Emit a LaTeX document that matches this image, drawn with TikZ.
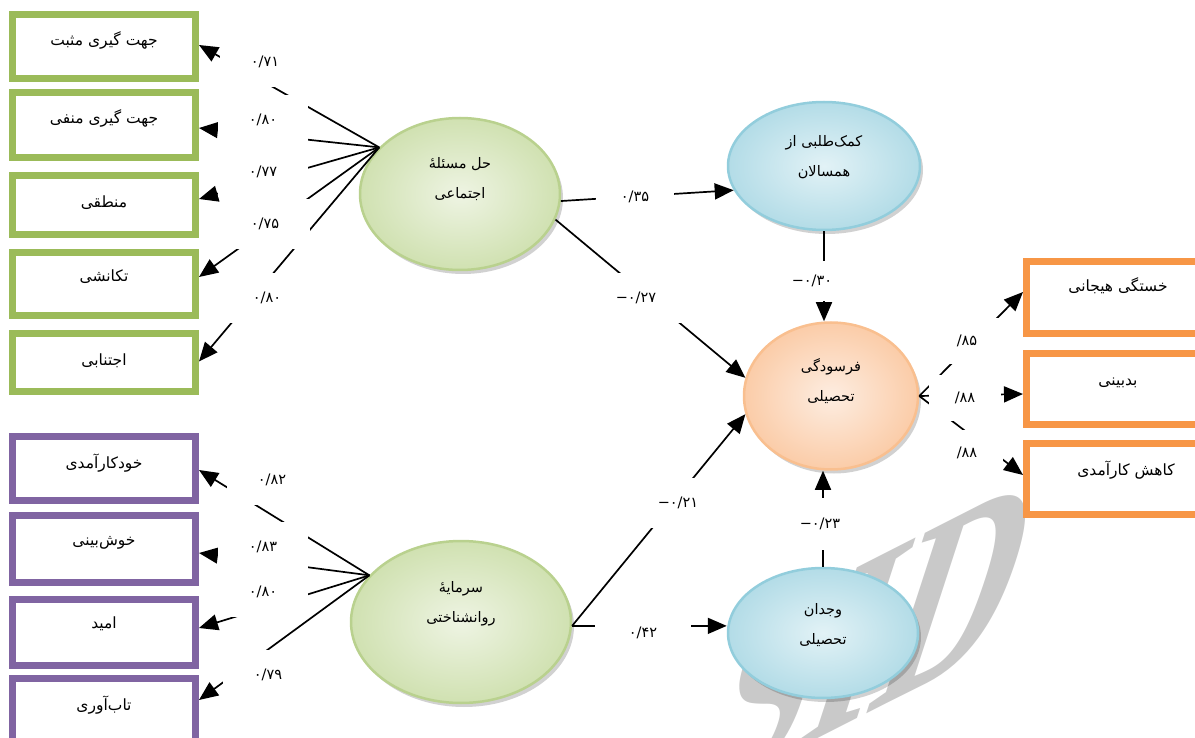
\documentclass[tikz,border=0pt]{standalone}
\usepackage{fontspec}
\usetikzlibrary{shapes.geometric,arrows.meta,shadows}
\TeXXeTstate=1
\newfontfamily\fa[Script=Arabic]{DejaVu Sans}
\newfontfamily\wmf{Liberation Serif}
\definecolor{gbox}{HTML}{9BBB59}
\definecolor{pbox}{HTML}{8064A2}
\definecolor{obox}{HTML}{F79646}
\definecolor{gline}{HTML}{B9D18E}
\definecolor{ginner}{HTML}{EEF4E3}
\definecolor{gouter}{HTML}{D0E1B1}
\definecolor{bline}{HTML}{92CDDC}
\definecolor{binner}{HTML}{E2F2F6}
\definecolor{bouter}{HTML}{B3DCE7}
\definecolor{oline}{HTML}{F9BF8F}
\definecolor{oinner}{HTML}{FDEDE1}
\definecolor{oouter}{HTML}{FBCCA8}
\newcommand\lift[2]{\raisebox{#1}[\height][\depth]{#2}}
\newcommand\faR[1]{\beginR #1\endR}
\newcommand\twol[2]{\begin{tabular}{@{}c@{}}\faR{#1}\\[13pt]\faR{#2}\end{tabular}}
\begin{document}
\begin{tikzpicture}[x=1pt,y=-1pt,
  box/.style={draw=#1, line width=7pt, fill=white, rectangle, inner sep=0pt,
    font=\fa\fontsize{15.5}{18}\selectfont, minimum width=183pt},
  lab/.style={fill=white, inner sep=0pt, minimum width=90pt, minimum height=50pt,
    font=\fa\fontsize{14.5}{16}\selectfont},
  ell/.style={ellipse, inner sep=0pt, line width=2.5pt,
    font=\fa\fontsize{14.5}{17}\selectfont,
    drop shadow={shadow xshift=3pt, shadow yshift=-4pt, opacity=0.18, fill=black}},
  gell/.style={ell, draw=gline, inner color=ginner, outer color=gouter},
  bell/.style={ell, draw=bline, inner color=binner, outer color=bouter},
  oell/.style={ell, draw=oline, inner color=oinner, outer color=oouter},
  con/.style={line width=1.7pt, -{Triangle[length=19pt,width=16pt]}}
]
\useasboundingbox (0,0) rectangle (1195,738);
% watermark
\begin{scope}
\clip (0,0) rectangle (1195,738);
\node[text=black!21, font=\wmf\bfseries\fontsize{205}{205}\selectfont, rotate=27, xslant=1, inner sep=0pt] (wm) at (872,636) {SID};
\end{scope}
% left boxes
\node[box=gbox, minimum height=64pt] (ga) at (104,46.5) {\lift{6pt}{\faR{جهت گیری مثبت}}};
\node[box=gbox, minimum height=65pt] (gb) at (104,125) {\lift{7pt}{\faR{جهت گیری منفی}}};
\node[box=gbox, minimum height=59pt] (gc) at (104,205) {\lift{2pt}{\faR{منطقی}}};
\node[box=gbox, minimum height=63pt] (gd) at (104,284) {\lift{7pt}{\faR{تکانشی}}};
\node[box=gbox, minimum height=58pt] (ge) at (104,362.5) {\lift{2pt}{\faR{اجتنابی}}};
\node[box=pbox, minimum height=64pt] (pa) at (104,468.5) {\lift{5pt}{\faR{خودکارآمدی}}};
\node[box=pbox, minimum height=67pt] (pb) at (104,549) {\lift{6pt}{\faR{خوش‌بینی}}};
\node[box=pbox, minimum height=66pt] (pc) at (104,632.5) {\lift{9pt}{\faR{امید}}};
\node[box=pbox, minimum height=73pt] (pd) at (104,715) {\lift{10pt}{\faR{تاب‌آوری}}};
% right boxes
\node[box=obox, minimum height=72pt] (ra) at (1118,297.5) {\lift{12pt}{\faR{خستگی هیجانی}}};
\node[box=obox, minimum height=71pt] (rb) at (1118,389) {\lift{6pt}{\faR{بدبینی}}};
\node[box=obox, minimum height=71pt] (rc) at (1118,479) {\lift{9pt}{\hspace{16pt}\faR{کاهش کارآمدی}}};
% ellipses
\node[gell, minimum width=200pt, minimum height=152pt] (g1) at (460,194) {\lift{14pt}{\twol{حل مسئلهٔ}{اجتماعی}}};
\node[gell, minimum width=220pt, minimum height=162pt] (g2) at (461,622) {\lift{18pt}{\twol{سرمایهٔ}{روانشناختی}}};
\node[bell, minimum width=192pt, minimum height=128pt] (c1) at (824,166) {\lift{8pt}{\twol{کمک‌طلبی از}{همسالان}}};
\node[oell, minimum width=174pt, minimum height=147pt] (o) at (831,396) {\lift{13pt}{\twol{فرسودگی}{تحصیلی}}};
\node[bell, minimum width=190pt, minimum height=130pt] (c2) at (823,633) {\lift{7pt}{\twol{وجدان}{تحصیلی}}};
% connectors
\draw[con] (g1.150) -- ([yshift=1.5pt]ga.east);
\draw[con] (g1.150) -- ([yshift=-3pt]gb.east);
\draw[con] (g1.150) -- ([yshift=6pt]gc.east);
\draw[con] (g1.150) -- ([yshift=7pt]gd.east);
\draw[con] (g1.150) -- ([yshift=1pt]ge.east);
\draw[con] (g2.153) -- ([yshift=-1.5pt]pa.east);
\draw[con] (g2.153) -- ([yshift=-4pt]pb.east);
\draw[con] (g2.153) -- ([yshift=4.5pt]pc.east);
\draw[con] (g2.153) -- ([yshift=15pt]pd.east);
\draw[con] (g1.-4) -- (c1.195);
\draw[con] (g1.-15) -- (o.168);
\draw[con] (g2.-2) -- (o.192);
\draw[con] (g2.-2) -- (g2.-2 -| c2.west);
\draw[con] (c1.south) -- (c1.south |- o.north);
\draw[con] (c2.north) -- (c2.north |- o.south);
\draw[con] (o.east) -- ([yshift=5.5pt]ra.west);
\draw[con] (o.east) -- ([yshift=-5pt]rb.west);
\draw[con] (o.east) -- ([yshift=4pt]rc.west);
% labels
\node[lab] (l1) at (265,62) {۰/۷۱};
\node[lab] (l2) at (263,120) {۰/۸۰};
\node[lab] (l3) at (263,172) {۰/۷۷};
\node[lab] (l4) at (265,224) {۰/۷۵};
\node[lab] (l5) at (267,298) {۰/۸۰};
\node[lab] (l6) at (272,480) {۰/۸۲};
\node[lab] (l7) at (263,547) {۰/۸۳};
\node[lab] (l8) at (263,592) {۰/۸۰};
\node[lab] (l9) at (268,675) {۰/۷۹};
\node[lab, minimum width=78pt] (l10) at (635,197) {۰/۳۵};
\node[lab] (l11) at (636,298) {۰/۲۷−};
\node[lab, minimum height=40pt] (l12) at (812,281) {۰/۳۰−};
\node[lab] (l13) at (678,503) {۰/۲۱−};
\node[lab, minimum width=96pt, minimum height=40pt] (l14) at (643,633) {۰/۴۲};
\node[lab, minimum height=52pt] (l15) at (820,524) {۰/۲۳−};
\node[lab, minimum width=72pt, minimum height=46pt] (l16) at (967,341) {۸۵/};
\node[lab, minimum width=72pt, minimum height=46pt] (l17) at (965,398) {۸۸/};
\node[lab, minimum width=72pt, minimum height=46pt] (l18) at (967,453) {۸۸/};
\end{tikzpicture}
\end{document}
